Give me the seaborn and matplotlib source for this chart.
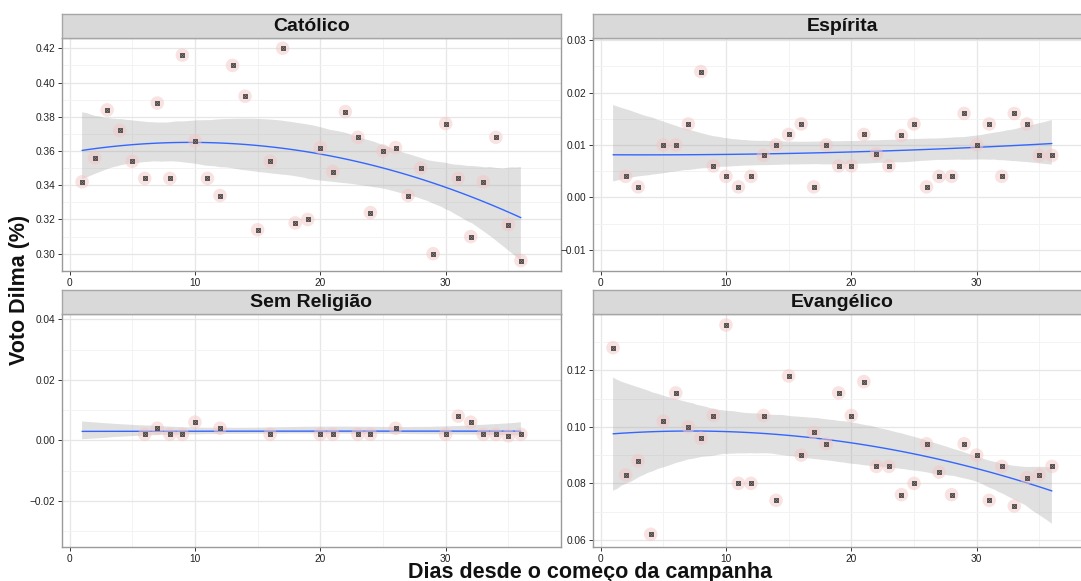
import numpy as np
import pandas as pd
import matplotlib
matplotlib.use("Agg")
import matplotlib.pyplot as plt
import seaborn as sns
from matplotlib.ticker import MultipleLocator, FuncFormatter

sns.set_theme(style="white")
plt.rcParams['font.family'] = ['Liberation Sans', 'DejaVu Sans']
plt.rcParams['axes.unicode_minus'] = True

# ---------------- data ----------------
religioes = ["Católico", "Espírita", "Sem Religião", "Evangélico"]

dias_catolico = list(range(1, 37))
voto_catolico = [0.342, 0.356, 0.384, 0.372, 0.354, 0.344, 0.388, 0.344, 0.416, 0.366,
                 0.344, 0.334, 0.410, 0.392, 0.314, 0.354, 0.420, 0.318, 0.320, 0.362,
                 0.348, 0.383, 0.368, 0.324, 0.360, 0.362, 0.334, 0.350, 0.300, 0.376,
                 0.344, 0.310, 0.342, 0.368, 0.317, 0.296]

dias_espirita = [2, 3, 5, 6, 7, 8, 9, 10, 11, 12, 13, 14, 15, 16, 17, 18, 19, 20,
                 21, 22, 23, 24, 25, 26, 27, 28, 29, 30, 31, 32, 33, 34, 35, 36]
voto_espirita = [0.004, 0.002, 0.010, 0.010, 0.014, 0.024, 0.006, 0.004, 0.002, 0.004,
                 0.008, 0.010, 0.012, 0.014, 0.002, 0.010, 0.006, 0.006, 0.012, 0.0083,
                 0.006, 0.0118, 0.014, 0.002, 0.004, 0.004, 0.016, 0.010, 0.014, 0.004,
                 0.016, 0.014, 0.008, 0.008]

dias_sem_religiao = [6, 7, 8, 9, 10, 12, 16, 20, 21, 23, 24, 26, 30, 31, 32, 33, 34, 35, 36]
voto_sem_religiao = [0.002, 0.004, 0.002, 0.002, 0.006, 0.004, 0.002, 0.002, 0.002, 0.002,
                     0.002, 0.004, 0.002, 0.008, 0.006, 0.002, 0.002, 0.0015, 0.002]

dias_evangelico = list(range(1, 37))
voto_evangelico = [0.128, 0.083, 0.088, 0.062, 0.102, 0.112, 0.100, 0.096, 0.104, 0.136,
                   0.080, 0.080, 0.104, 0.074, 0.118, 0.090, 0.098, 0.094, 0.112, 0.104,
                   0.116, 0.086, 0.086, 0.076, 0.080, 0.094, 0.084, 0.076, 0.094, 0.090,
                   0.074, 0.086, 0.072, 0.082, 0.083, 0.086]

campanha_inicio, campanha_fim = 1, 36

frames = []
for rel, d, v in zip(religioes,
                     [dias_catolico, dias_espirita, dias_sem_religiao, dias_evangelico],
                     [voto_catolico, voto_espirita, voto_sem_religiao, voto_evangelico]):
    frames.append(pd.DataFrame({"religiao": rel, "dias": d, "voto": v}))
df = pd.concat(frames, ignore_index=True)

# ---------------- layout ----------------
W, H = 1081, 581
fig = plt.figure(figsize=(W / 100, H / 100), dpi=100)

panel_w = 499 / W
panel_h = 233 / H
strip_h = 24 / H
lefts = [62 / W, 593 / W]
bottoms = [1 - 271 / H, 1 - 547 / H]

ylims = {"Católico": (0.2899, 0.426), "Espírita": (-0.01405, 0.0304),
         "Sem Religião": (-0.0353, 0.0418), "Evangélico": (0.0575, 0.1399)}
ysteps = {"Católico": 0.02, "Espírita": 0.01, "Sem Religião": 0.02, "Evangélico": 0.02}
xlim = (-0.6, 39.2)

positions = [(0, 0), (1, 0), (0, 1), (1, 1)]
fmt = FuncFormatter(lambda v, p: ("%.2f" % v).replace("-", "\u2212") if abs(v) > 1e-12 else "0.00")

for rel, (ci_, ri) in zip(religioes, positions):
    sub = df[df.religiao == rel]
    ax = fig.add_axes([lefts[ci_], bottoms[ri], panel_w, panel_h])
    ax.set_facecolor("white")

    # grid
    ax.xaxis.set_major_locator(MultipleLocator(10))
    ax.xaxis.set_minor_locator(MultipleLocator(5))
    ax.yaxis.set_major_locator(MultipleLocator(ysteps[rel]))
    ax.yaxis.set_minor_locator(MultipleLocator(ysteps[rel] / 2))
    ax.grid(which="major", color="#E6E6E6", lw=0.9, zorder=0)
    ax.grid(which="minor", color="#F3F3F3", lw=0.7, zorder=0)
    ax.set_axisbelow(True)

    # smooth over the campaign range
    ax.set_xlim(campanha_inicio, campanha_fim)
    sns.regplot(data=sub, x="dias", y="voto", ax=ax, order=2, ci=95, n_boot=1000,
                seed=3, scatter=False, truncate=False,
                line_kws=dict(color="#3366FF", lw=1.0, zorder=3))
    for coll in ax.collections:
        coll.set_facecolor("#9A9A9A")
        coll.set_alpha(0.3)
        coll.set_edgecolor("none")

    # points
    sns.scatterplot(data=sub, x="dias", y="voto", ax=ax, s=95, color="#F4C6C6",
                    alpha=0.5, edgecolor="none", zorder=4, legend=False)
    sns.scatterplot(data=sub, x="dias", y="voto", ax=ax, s=11, marker="s",
                    color="#A08C8C", edgecolor="#4A4A4A", linewidth=0.6, zorder=5,
                    legend=False)
    sns.scatterplot(data=sub, x="dias", y="voto", ax=ax, s=7, marker="x",
                    color="#3A3A3A", linewidth=0.5, zorder=6, legend=False)

    ax.set_xlim(*xlim)
    ax.set_ylim(*ylims[rel])
    ax.yaxis.set_major_formatter(fmt)
    ax.set_xlabel("")
    ax.set_ylabel("")
    ax.tick_params(which="major", direction="out", length=3, width=0.7, color="#333333",
                   labelsize=7.3, labelcolor="#222222", pad=2,
                   bottom=True, left=True)
    ax.tick_params(which="minor", length=0)
    for s in ax.spines.values():
        s.set_color("#9A9A9A")
        s.set_linewidth(1.0)

    # strip
    sax = fig.add_axes([lefts[ci_], bottoms[ri] + panel_h, panel_w, strip_h])
    sax.set_facecolor("#D9D9D9")
    sax.set_xticks([])
    sax.set_yticks([])
    for s in sax.spines.values():
        s.set_color("#A6A6A6")
        s.set_linewidth(1.0)
    sax.text(0.5, 0.47, rel, ha="center", va="center", fontsize=14,
             fontweight="bold", color="#111111", transform=sax.transAxes)

fig.text(590 / W, 1 - 578 / H, "Dias desde o começo da campanha", ha="center",
         va="baseline", fontsize=15.5, fontweight="bold", color="#111111")
fig.text(20 / W, 1 - 290 / H, "Voto Dilma (%)", ha="center", va="center",
         rotation=90, fontsize=15.5, fontweight="bold", color="#111111")

fig.savefig("out.png", dpi=100)
